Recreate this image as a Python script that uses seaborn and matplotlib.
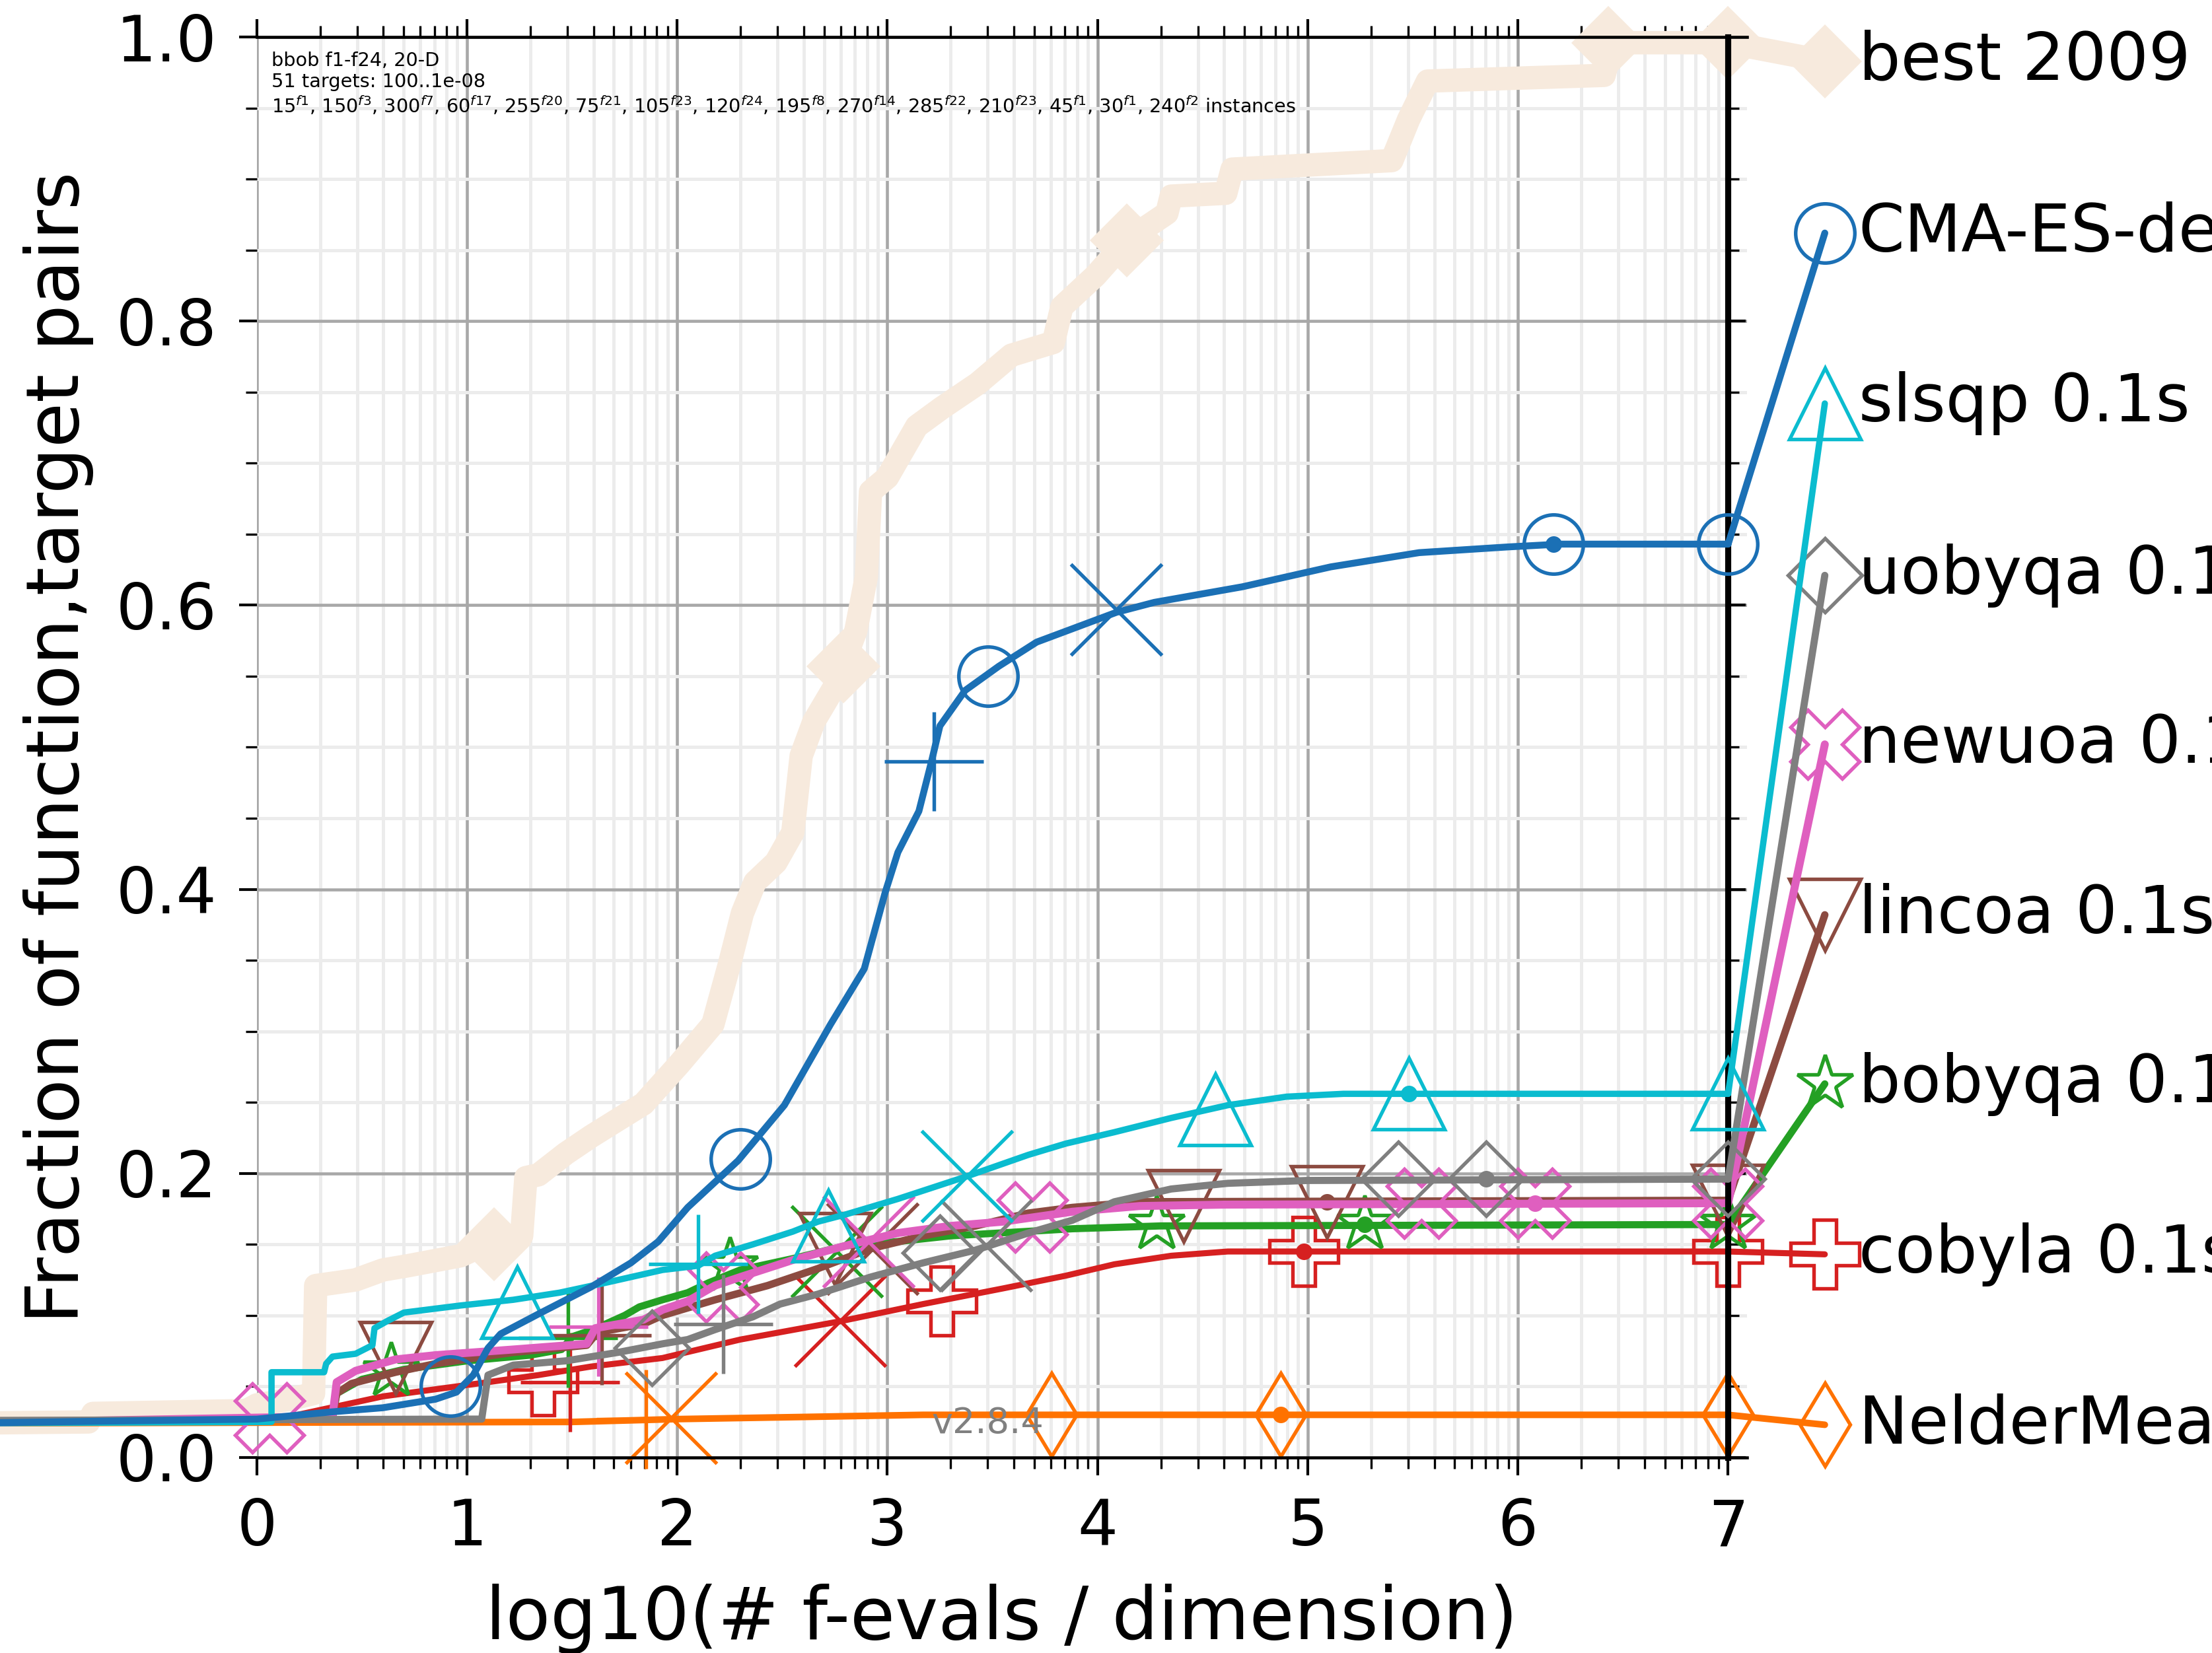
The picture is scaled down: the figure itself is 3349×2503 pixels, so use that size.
import numpy as np
import pandas as pd
import matplotlib
matplotlib.use("Agg")
import matplotlib.pyplot as plt
import seaborn as sns
from matplotlib.ticker import FixedLocator, MultipleLocator

sns.set_style("white")
plt.rcParams['font.family'] = ['DejaVu Sans']
plt.rcParams['text.color'] = 'black'
plt.rcParams['axes.labelcolor'] = 'black'
plt.rcParams['xtick.color'] = 'black'
plt.rcParams['ytick.color'] = 'black'

# ---------------- data (log10 evals / dim, fraction) ----------------
best_x = [-1.5, -0.8, -0.78, -0.05, 0.0, 0.16, 0.27, 0.28, 0.47, 0.60, 0.72, 0.97, 1.07, 1.18, 1.26,
          1.28, 1.34, 1.47, 1.59, 1.72, 1.84, 2.01, 2.17, 2.25, 2.31, 2.37, 2.47, 2.55, 2.59, 2.65,
          2.75, 2.85, 2.90, 2.92, 3.00, 3.14, 3.26, 3.43, 3.59, 3.79, 3.83, 3.99, 4.14, 4.33, 4.35,
          4.61, 4.64, 5.40, 5.48, 5.57, 6.41, 6.45, 7.0]
best_y = [0.024, 0.025, 0.031, 0.033, 0.037, 0.041, 0.045, 0.121, 0.125, 0.132, 0.135, 0.142, 0.149, 0.152, 0.156,
          0.197, 0.199, 0.214, 0.226, 0.238, 0.249, 0.277, 0.305, 0.348, 0.383, 0.405, 0.419, 0.440, 0.494, 0.518,
          0.543, 0.582, 0.62, 0.68, 0.69, 0.726, 0.739, 0.756, 0.776, 0.785, 0.810, 0.832, 0.857, 0.876, 0.888,
          0.890, 0.907, 0.913, 0.942, 0.969, 0.973, 0.996, 0.996]
best_mx = [1.13, 2.79, 4.14, 6.43, 7.0]
best_my = [0.150, 0.557, 0.857, 0.996, 0.996]

cma_x = [-1.5, 0.0, 0.35, 0.6, 0.85, 0.95, 1.03, 1.10, 1.16, 1.34, 1.59, 1.78, 1.91, 2.05, 2.29, 2.51, 2.73,
         2.89, 2.99, 3.05, 3.15, 3.21, 3.25, 3.37, 3.53, 3.71, 4.09, 4.27, 4.69, 5.11, 5.53, 5.95, 6.2, 7.0]
cma_y = [0.024, 0.027, 0.032, 0.035, 0.041, 0.046, 0.058, 0.077, 0.087, 0.101, 0.120, 0.137, 0.152, 0.176,
         0.209, 0.248, 0.305, 0.344, 0.398, 0.426, 0.455, 0.49, 0.515, 0.54, 0.557, 0.574, 0.595, 0.602,
         0.613, 0.627, 0.637, 0.641, 0.643, 0.643]
cma_mx = [0.92, 2.30, 3.48, 6.17, 7.0]
cma_my = [0.050, 0.210, 0.550, 0.643, 0.643]

slsqp_x = [-1.5, 0.07, 0.07, 0.32, 0.33, 0.36, 0.47, 0.55, 0.56, 0.62, 0.70, 0.97, 1.22, 1.44, 1.66, 1.93,
           2.10, 2.18, 2.36, 2.55, 2.67, 2.80, 3.05, 3.38, 3.67, 3.85, 4.08, 4.35, 4.62, 4.90, 5.17, 7.0]
slsqp_y = [0.024, 0.025, 0.060, 0.060, 0.066, 0.071, 0.073, 0.079, 0.091, 0.096, 0.102, 0.107, 0.111, 0.116,
           0.123, 0.132, 0.135, 0.142, 0.150, 0.159, 0.166, 0.171, 0.182, 0.198, 0.213, 0.221, 0.229, 0.239,
           0.248, 0.254, 0.256, 0.256]
slsqp_mx = [1.24, 2.72, 4.56, 5.48, 7.0]
slsqp_my = [0.109, 0.163, 0.245, 0.256, 0.256]

uobyqa_x = [-1.5, 1.07, 1.10, 1.22, 1.47, 1.72, 1.93, 2.05, 2.18, 2.36, 2.49, 2.67, 2.92, 3.17, 3.42, 3.67,
            3.88, 4.08, 4.35, 4.62, 5.0, 7.0]
uobyqa_y = [0.026, 0.027, 0.058, 0.065, 0.068, 0.074, 0.080, 0.083, 0.090, 0.099, 0.108, 0.115, 0.127, 0.137,
            0.146, 0.158, 0.167, 0.180, 0.189, 0.193, 0.195, 0.196]
uobyqa_mx = [1.88, 3.25, 5.43, 5.85, 7.0]
uobyqa_my = [0.077, 0.144, 0.196, 0.196, 0.196]

newuoa_x = [-1.5, 0.36, 0.38, 0.47, 0.66, 0.85, 1.22, 1.57, 1.61, 1.84, 1.93, 2.05, 2.18, 2.30, 2.55, 2.80,
            3.05, 3.30, 3.55, 3.88, 4.2, 4.6, 7.0]
newuoa_y = [0.024, 0.029, 0.053, 0.061, 0.069, 0.072, 0.076, 0.080, 0.091, 0.097, 0.104, 0.110, 0.121, 0.127,
            0.139, 0.149, 0.158, 0.163, 0.166, 0.173, 0.177, 0.178, 0.179]
newuoa_mx = [0.06, 2.22, 3.69, 5.54, 6.08, 7.0]
newuoa_my = [0.028, 0.120, 0.169, 0.179, 0.179, 0.179]

lincoa_x = [-1.5, 0.36, 0.38, 0.45, 0.66, 0.85, 1.22, 1.57, 1.62, 1.84, 1.93, 2.18, 2.43, 2.67, 2.92, 3.17,
            3.42, 3.67, 3.88, 4.2, 7.0]
lincoa_y = [0.024, 0.028, 0.045, 0.052, 0.060, 0.066, 0.074, 0.079, 0.088, 0.094, 0.100, 0.111, 0.121, 0.133,
            0.147, 0.156, 0.163, 0.172, 0.176, 0.180, 0.181]
lincoa_mx = [0.66, 2.75, 4.41, 5.09, 7.0]
lincoa_my = [0.070, 0.147, 0.177, 0.180, 0.181]

bobyqa_x = [-1.5, 0.36, 0.38, 0.5, 0.7, 1.0, 1.3, 1.45, 1.5, 1.6, 1.75, 1.82, 1.93, 2.05, 2.15, 2.30, 2.55,
            2.80, 3.05, 3.30, 3.88, 4.3, 7.0]
bobyqa_y = [0.024, 0.028, 0.045, 0.055, 0.062, 0.068, 0.072, 0.076, 0.085, 0.090, 0.100, 0.106, 0.111, 0.116,
            0.123, 0.132, 0.140, 0.149, 0.152, 0.156, 0.161, 0.163, 0.164]
bobyqa_mx = [0.64, 2.25, 4.28, 5.27, 7.0]
bobyqa_my = [0.061, 0.135, 0.164, 0.164, 0.164]

cobyla_x = [-1.5, 0.1, 0.35, 0.6, 0.85, 1.1, 1.34, 1.59, 1.93, 2.30, 2.78, 3.17, 3.55, 3.85, 4.08, 4.35, 4.62, 7.0]
cobyla_y = [0.024, 0.027, 0.035, 0.043, 0.048, 0.053, 0.058, 0.064, 0.070, 0.083, 0.096, 0.108, 0.119, 0.128,
            0.136, 0.142, 0.145, 0.145]
cobyla_mx = [1.36, 3.26, 4.98, 7.0]
cobyla_my = [0.054, 0.110, 0.145, 0.145]

nm_x = [-1.5, 1.5, 2.0, 2.6, 3.17, 4.0, 7.0]
nm_y = [0.024, 0.025, 0.027, 0.0285, 0.030, 0.030, 0.030]
nm_mx = [3.78, 4.87, 7.0]
nm_my = [0.030, 0.030, 0.030]

# '+' and 'x' budget markers  (x, y)
plus_pts = {"cma": (3.22, 0.49), "slsqp": (2.10, 0.136), "uobyqa": (2.22, 0.094), "newuoa": (1.625, 0.092),
            "lincoa": (1.64, 0.086), "bobyqa": (1.48, 0.084), "cobyla": (1.49, 0.053), "nm": (1.85, 0.027)}
cross_pts = {"cma": (4.09, 0.597), "slsqp": (3.38, 0.198), "uobyqa": (3.47, 0.149), "newuoa": (2.91, 0.152),
             "lincoa": (2.93, 0.147), "bobyqa": (2.76, 0.145), "cobyla": (2.775, 0.096), "nm": (1.97, 0.028)}
dot_pts = {"cma": (6.17, 0.643), "slsqp": (5.48, 0.256), "uobyqa": (5.85, 0.196), "newuoa": (6.08, 0.179),
           "lincoa": (5.09, 0.180), "bobyqa": (5.27, 0.164), "cobyla": (4.98, 0.145), "nm": (4.87, 0.030)}

names = ["best 2009", "CMA-ES-default", "slsqp 0.1s", "uobyqa 0.1s", "newuoa 0.1s", "lincoa 0.1s",
         "bobyqa 0.1s", "cobyla 0.1s", "NelderMead 0.1s"]
label_y = [0.983, 0.862, 0.742, 0.621, 0.502, 0.382, 0.263, 0.143, 0.023]

xticks = [0, 1, 2, 3, 4, 5, 6, 7]
yticks = [0.0, 0.2, 0.4, 0.6, 0.8, 1.0]

# ---------------- styling per algorithm ----------------
algs = [
    # key, x, y, mx, my, color, marker, ms, lw, z
    ("cma", cma_x, cma_y, cma_mx, cma_my, "#1b70b5", "o", 21.5, 2.5, 2.8),
    ("slsqp", slsqp_x, slsqp_y, slsqp_mx, slsqp_my, "#0bbccf", "^", 26, 2.3, 2.7),
    ("uobyqa", uobyqa_x, uobyqa_y, uobyqa_mx, uobyqa_my, "#7f7f7f", "D", 19, 2.6, 2.6),
    ("newuoa", newuoa_x, newuoa_y, newuoa_mx, newuoa_my, "#df5fbf", "X", 25, 2.9, 2.5),
    ("lincoa", lincoa_x, lincoa_y, lincoa_mx, lincoa_my, "#8c4b41", "v", 26, 2.7, 2.4),
    ("bobyqa", bobyqa_x, bobyqa_y, bobyqa_mx, bobyqa_my, "#24a024", "*", 21, 2.6, 2.3),
    ("cobyla", cobyla_x, cobyla_y, cobyla_mx, cobyla_my, "#d62020", "P", 25, 2.2, 2.2),
    ("nm", nm_x, nm_y, nm_mx, nm_my, "#ff7200", "d", 21.5, 2.4, 2.1),
]

LEG_MX = 7.46
LEG_TX = 7.62

fig = plt.figure(figsize=(3349 / 300, 2503 / 300), dpi=300)
ax = fig.add_axes([0.1161, 0.1183, 0.6737, 0.8593])
ax.set_xlim(0, 7.09)
ax.set_ylim(0, 1.0)
ax.set_axisbelow(True)

# best 2009 reference
best_col = "#f7eadd"
sns.lineplot(x=best_x, y=best_y, ax=ax, color=best_col, linewidth=8.5, sort=False,
             estimator=None, errorbar=None, clip_on=False, zorder=1.6, legend=False)
ax.plot([best_x[-1], LEG_MX], [best_y[-1], label_y[0]], color=best_col, lw=8.5,
        clip_on=False, zorder=1.6, solid_capstyle='butt')
ax.plot(best_mx + [LEG_MX], best_my + [label_y[0]], ls='none', marker='D', ms=19, mfc=best_col,
        mec=best_col, mew=0, clip_on=False, zorder=1.6)
ax.text(LEG_TX, label_y[0], names[0], fontsize=24, va='center', ha='left', clip_on=False)

for i, (key, xs, ys, mx, my, col, mk, ms, lw, z) in enumerate(algs):
    sns.lineplot(x=xs, y=ys, ax=ax, color=col, linewidth=lw, sort=False, estimator=None,
                 errorbar=None, clip_on=False, zorder=z, legend=False)
    ly = label_y[i + 1]
    ax.plot([xs[-1], LEG_MX], [ys[-1], ly], color=col, lw=lw, clip_on=False, zorder=z)
    ax.plot(mx + [LEG_MX], my + [ly], ls='none', marker=mk, ms=ms, mfc='none', mec=col,
            mew=1.3, clip_on=False, zorder=z)
    px, py = plus_pts[key]
    ax.plot([px], [py], ls='none', marker='+', ms=36, mec=col, mew=1.3, clip_on=False, zorder=z)
    cx, cy = cross_pts[key]
    ax.plot([cx], [cy], ls='none', marker='x', ms=33, mec=col, mew=1.3, clip_on=False, zorder=z)
    dx, dy = dot_pts[key]
    ax.plot([dx], [dy], ls='none', marker='o', ms=5, mfc=col, mec=col, clip_on=False, zorder=z)
    ax.text(LEG_TX, ly, names[i + 1], fontsize=24, va='center', ha='left', clip_on=False)

# ticks & grid
ax.xaxis.set_major_locator(FixedLocator(xticks))
ax.xaxis.set_minor_locator(FixedLocator([n + np.log10(k) for n in range(7) for k in range(2, 10)]))
ax.yaxis.set_major_locator(FixedLocator(yticks))
ax.yaxis.set_minor_locator(MultipleLocator(0.05))
ax.set_xticklabels([str(t) for t in xticks])
ax.set_yticklabels([f"{t:.1f}" for t in yticks])
ax.grid(True, which='major', color='#a8a8a8', lw=1.1)
ax.grid(True, which='minor', color='#ececec', lw=1.2)

ax.tick_params(axis='both', which='major', direction='out', length=6.5, width=1.0, labelsize=23, pad=8,
               bottom=True, top=True, left=True, right=True, labeltop=False, labelright=False)
ax.tick_params(axis='both', which='minor', direction='out', length=4, width=0.8,
               bottom=True, top=True, left=True, right=True)

ax.spines['left'].set_visible(False)
ax.spines['right'].set_position(('data', 7.0))
ax.spines['right'].set_linewidth(2.2)
ax.spines['right'].set_color('black')
for s in ['top', 'bottom']:
    ax.spines[s].set_linewidth(1.1)
    ax.spines[s].set_color('black')

ax.set_xlabel("log10(# f-evals / dimension)", fontsize=26.5, labelpad=9)
ax.set_ylabel("Fraction of function,target pairs", fontsize=26.5, labelpad=8)

info = ("bbob f1-f24, 20-D\n51 targets: 100..1e-08\n"
        "15$^{f1}$, 150$^{f3}$, 300$^{f7}$, 60$^{f17}$, 255$^{f20}$, 75$^{f21}$, 105$^{f23}$, "
        "120$^{f24}$, 195$^{f8}$, 270$^{f14}$, 285$^{f22}$, 210$^{f23}$, 45$^{f1}$, 30$^{f1}$, "
        "240$^{f2}$ instances")
ax.text(0.01, 0.99, info, transform=ax.transAxes, fontsize=6.9, va='top', ha='left', linespacing=1.2)
ax.text(3.21, 0.017, "v2.8.4", color='#808080', fontsize=13, ha='left', va='baseline', zorder=5)

fig.savefig("out.png", dpi=300)
